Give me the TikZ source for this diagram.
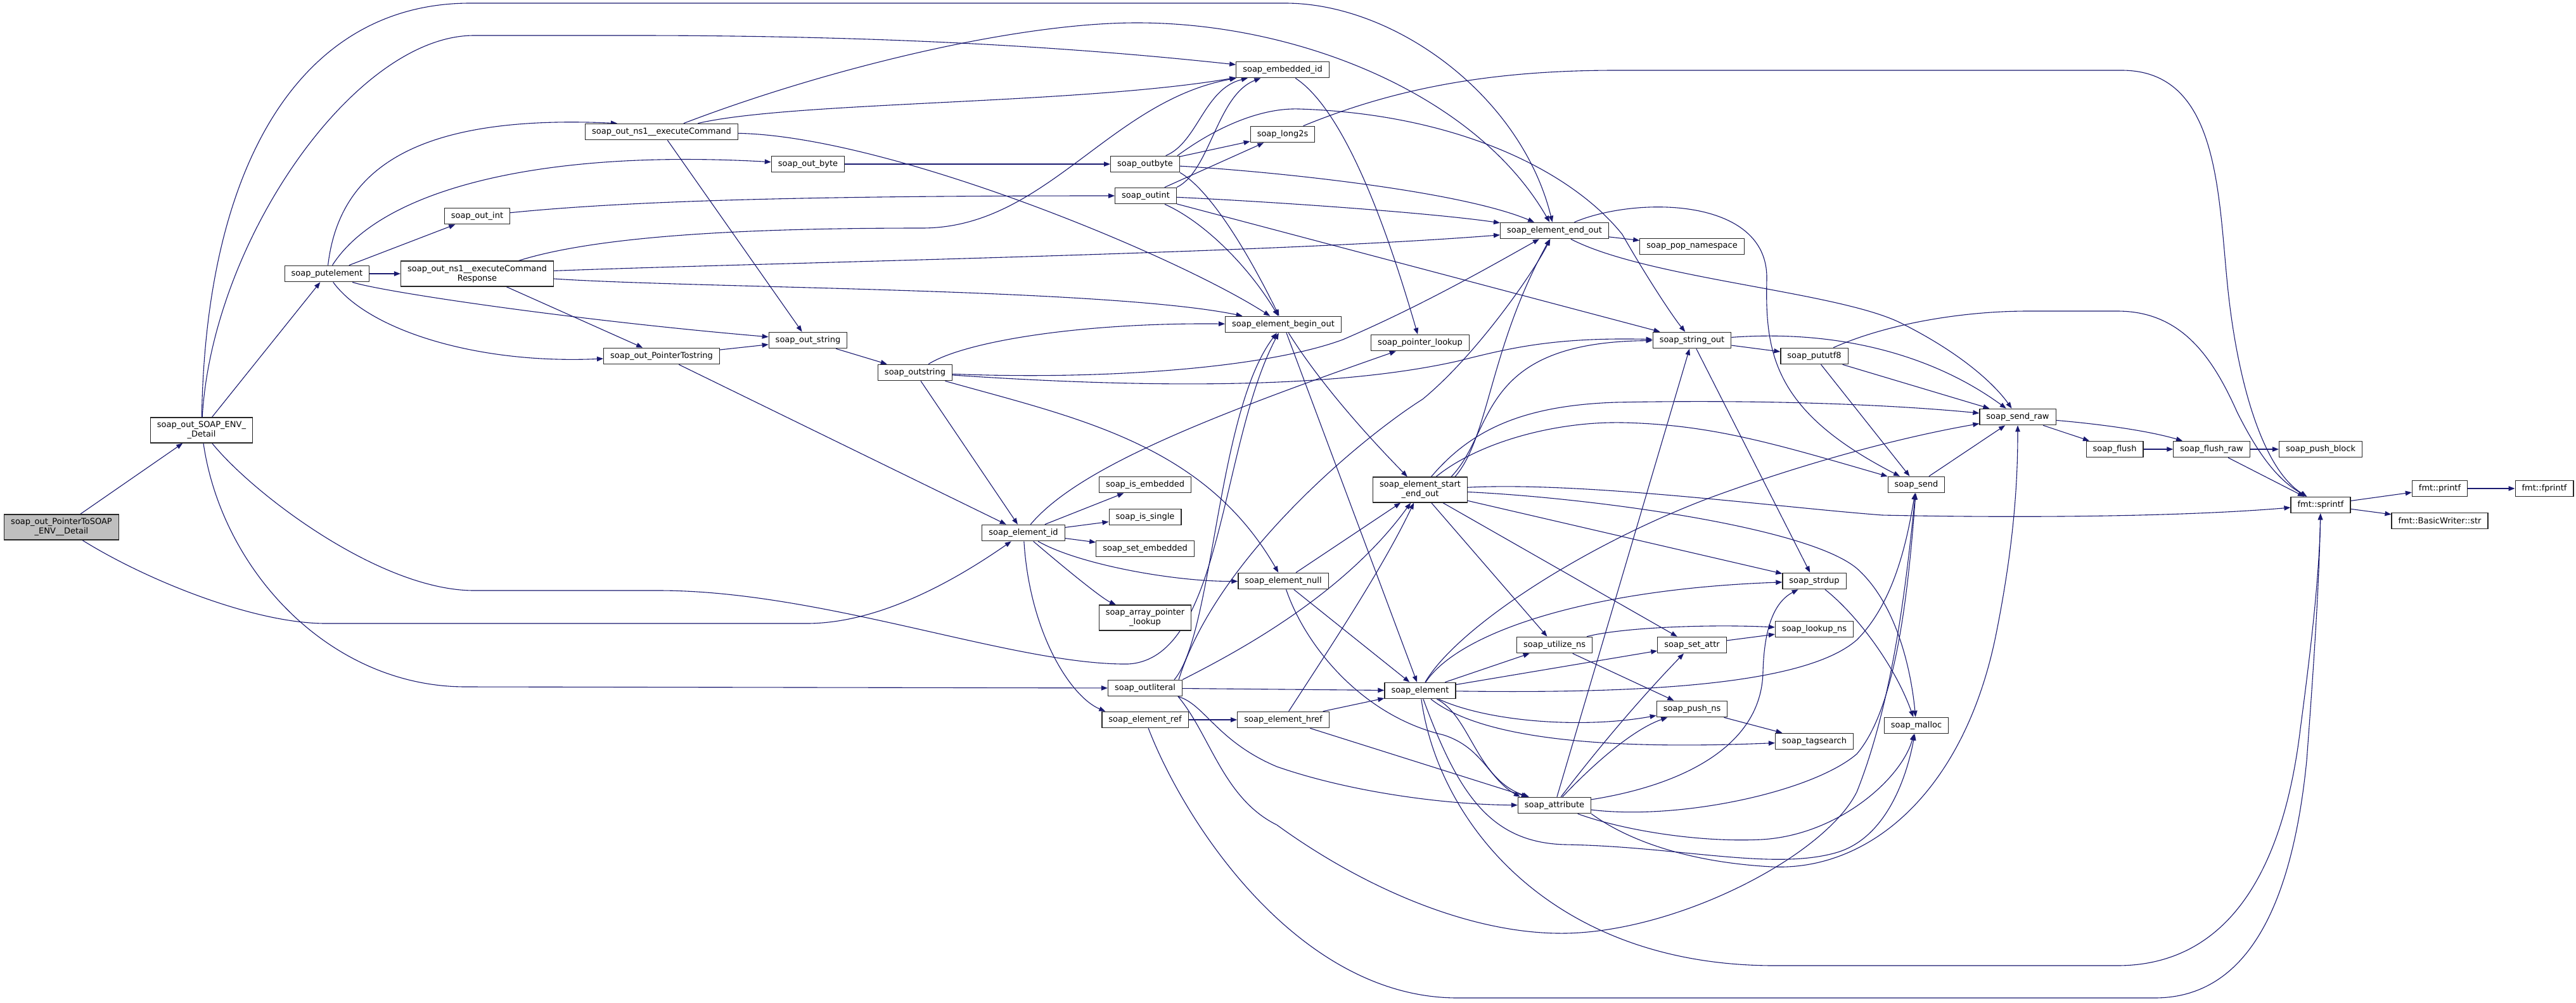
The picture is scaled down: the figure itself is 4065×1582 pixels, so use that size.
\documentclass[tikz,border=0pt]{standalone}
\usepackage{fontspec}
\setmainfont{DejaVu Sans}
\usetikzlibrary{arrows.meta}
\pgfdeclarelayer{bg}
\pgfsetlayers{bg,main}
\definecolor{edgeblue}{HTML}{191970}
\definecolor{rootgrey}{HTML}{BFBFBF}
\tikzset{
  fnbox/.style={draw=black!85, line width=1.2pt, fill=white, inner xsep=10.5pt, inner ysep=2pt,
    minimum height=25.5pt, align=center, font=\fontsize{13}{15}\selectfont},
  fnbox2/.style={fnbox, minimum height=40pt},
  rootbox/.style={fill=rootgrey},
  cedge/.style={draw=edgeblue, line width=1.1pt, -{Triangle[length=10pt,width=7.5pt]}},
}
\begin{document}
\begin{tikzpicture}[x=1pt,y=-1pt]
\useasboundingbox (0,0) rectangle (4065,1582);
\begin{pgfonlayer}{bg}
\fill[white] (0,0) rectangle (4065,1582);
\end{pgfonlayer}
% nodes
\node[fnbox2,rootbox] (ptr) at (97,832) {soap\_out\_PointerToSOAP\\\_ENV\_\_Detail};
\node[fnbox2] (detail) at (318,679) {soap\_out\_SOAP\_ENV\_\\\_Detail};
\node[fnbox] (putel) at (516,432) {soap\_putelement};
\node[fnbox] (outintw) at (753,341) {soap\_out\_int};
\node[fnbox2] (resp) at (753,432) {soap\_out\_ns1\_\_executeCommand\\Response};
\node[fnbox] (cmd) at (1044,208) {soap\_out\_ns1\_\_executeCommand};
\node[fnbox] (ptrstr) at (1044,562) {soap\_out\_PointerTostring};
\node[fnbox] (outbytew) at (1275,259) {soap\_out\_byte};
\node[fnbox] (outstrw) at (1275,537) {soap\_out\_string};
\node[fnbox] (outstring) at (1444,588) {soap\_outstring};
\node[fnbox] (elid) at (1615,841) {soap\_element\_id};
\node[fnbox] (outbyte) at (1807,259) {soap\_outbyte};
\node[fnbox] (outint) at (1808,309) {soap\_outint};
\node[fnbox] (isemb) at (1807,765) {soap\_is\_embedded};
\node[fnbox] (issingle) at (1807,816) {soap\_is\_single};
\node[fnbox] (setemb) at (1807,866) {soap\_set\_embedded};
\node[fnbox2] (arrptr) at (1807,975) {soap\_array\_pointer\\\_lookup};
\node[fnbox] (outlit) at (1807,1086) {soap\_outliteral};
\node[fnbox] (elref) at (1807,1136) {soap\_element\_ref};
\node[fnbox] (embid) at (2024,110) {soap\_embedded\_id};
\node[fnbox] (long2s) at (2024,212) {soap\_long2s};
\node[fnbox] (beginout) at (2025,512) {soap\_element\_begin\_out};
\node[fnbox] (elnull) at (2025,917) {soap\_element\_null};
\node[fnbox] (elhref) at (2025,1136) {soap\_element\_href};
\node[fnbox] (ptrlookup) at (2241,541) {soap\_pointer\_lookup};
\node[fnbox2] (startend) at (2241,773) {soap\_element\_start\\\_end\_out};
\node[fnbox] (element) at (2241,1090) {soap\_element};
\node[fnbox] (endout) at (2453,364) {soap\_element\_end\_out};
\node[fnbox] (utilize) at (2453,1018) {soap\_utilize\_ns};
\node[fnbox] (attribute) at (2453,1271) {soap\_attribute};
\node[fnbox] (popns) at (2670,389) {soap\_pop\_namespace};
\node[fnbox] (stringout) at (2670,537) {soap\_string\_out};
\node[fnbox] (setattr) at (2670,1018) {soap\_set\_attr};
\node[fnbox] (pushns) at (2670,1119) {soap\_push\_ns};
\node[fnbox] (pututf8) at (2863,562) {soap\_pututf8};
\node[fnbox] (strdup) at (2863,917) {soap\_strdup};
\node[fnbox] (lookupns) at (2863,993) {soap\_lookup\_ns};
\node[fnbox] (tagsearch) at (2863,1170) {soap\_tagsearch};
\node[fnbox] (send) at (3024,765) {soap\_send};
\node[fnbox] (malloc) at (3024,1145) {soap\_malloc};
\node[fnbox] (sendraw) at (3184,658) {soap\_send\_raw};
\node[fnbox] (flush) at (3337,709) {soap\_flush};
\node[fnbox] (flushraw) at (3490,709) {soap\_flush\_raw};
\node[fnbox] (pushblock) at (3662,709) {soap\_push\_block};
\node[fnbox] (sprintf) at (3662,797) {fmt::sprintf};
\node[fnbox] (printf) at (3850,771) {fmt::printf};
\node[fnbox] (fprintf) at (4015,771) {fmt::fprintf};
\node[fnbox] (bwstr) at (3850,822) {fmt::BasicWriter::str};
% edges
\begin{pgfonlayer}{bg}
\draw[cedge] (ptr) -- (detail);
\draw[cedge] (ptr) .. controls (230,915) and (400,984) .. (514,984) -- (1273,984) .. controls (1400,984) and (1530,900) .. (elid);
\draw[cedge] (detail) -- (putel);
\draw[cedge] (detail) .. controls (325,250) and (480,5) .. (742,5) -- (2028,5) .. controls (2200,5) and (2400,150) .. (endout);
\draw[cedge] (detail) .. controls (335,380) and (560,56) .. (748,56) -- (1000,56) .. controls (1400,56) and (1700,75) .. (embid);
\draw[cedge] (detail) .. controls (400,780) and (600,932) .. (748,932) -- (1039,932) .. controls (1300,932) and (1600,1050) .. (1780,1048) .. controls (1930,1040) and (1925,700) .. (beginout);
\draw[cedge] (detail) .. controls (350,900) and (520,1084) .. (735,1084) -- (outlit);
\draw[cedge] (putel) .. controls (535,270) and (650,180) .. ([xshift=51pt]cmd.north west);
\draw[cedge] (putel) .. controls (600,300) and (850,235) .. (outbytew);
\draw[cedge] (putel) -- (outintw);
\draw[cedge] (putel) -- (resp);
\draw[cedge] (putel) .. controls (600,460) and (900,505) .. (outstrw);
\draw[cedge] (putel) .. controls (580,520) and (750,575) .. (ptrstr);
\draw[cedge] (resp) .. controls (950,370) and (1200,360) .. (1455,360) .. controls (1650,360) and (1750,160) .. (embid);
\draw[cedge] (resp) .. controls (1200,415) and (2000,400) .. (endout);
\draw[cedge] (resp) .. controls (1100,455) and (1750,455) .. (beginout);
\draw[cedge] (resp) -- (ptrstr);
\draw[cedge] (outintw) .. controls (1000,316) and (1300,309) .. (outint);
\draw[cedge] (outbytew) -- (outbyte);
\draw[cedge] (cmd) .. controls (1300,110) and (1600,36) .. (1794,36) .. controls (2050,36) and (2330,150) .. (endout);
\draw[cedge] (cmd) .. controls (1250,160) and (1700,165) .. (embid);
\draw[cedge] (cmd) -- (outstrw);
\draw[cedge] (cmd) .. controls (1400,215) and (1850,400) .. (beginout);
\draw[cedge] (ptrstr) -- (outstrw);
\draw[cedge] (ptrstr) -- (elid);
\draw[cedge] (outstrw) -- (outstring);
\draw[cedge] (outstring) .. controls (1520,540) and (1700,509) .. (beginout);
\draw[cedge] (outstring) .. controls (1750,600) and (2000,580) .. (2119,536) .. controls (2250,480) and (2370,410) .. (endout);
\draw[cedge] (outstring) .. controls (1800,612) and (2100,615) .. (2300,570) .. controls (2380,550) and (2450,532) .. (stringout);
\draw[cedge] (outstring) -- (elid);
\draw[cedge] (outstring) .. controls (1700,660) and (1900,700) .. (elnull);
\draw[cedge] (elid) -- (isemb);
\draw[cedge] (elid) -- (issingle);
\draw[cedge] (elid) -- (setemb);
\draw[cedge] (elid) .. controls (1700,890) and (1850,918) .. (elnull);
\draw[cedge] (elid) .. controls (1690,905) and (1740,945) .. (arrptr);
\draw[cedge] (elid) .. controls (1625,1000) and (1690,1100) .. ([xshift=6pt]elref.north west);
\draw[cedge] (elid) .. controls (1700,740) and (1900,660) .. (ptrlookup);
\draw[cedge] (outbyte) .. controls (1890,225) and (1900,140) .. (embid);
\draw[cedge] ([xshift=-4pt]outbyte.north east) .. controls (1920,200) and (1990,170) .. (2050,172) .. controls (2300,180) and (2480,270) .. (2560,370) .. controls (2600,440) and (2640,500) .. (stringout);
\draw[cedge] (outbyte) -- (long2s);
\draw[cedge] (outbyte) .. controls (2000,270) and (2300,300) .. (endout);
\draw[cedge] (outbyte.south east) .. controls (1910,300) and (1970,400) .. (beginout);
\draw[cedge] (outint) -- (long2s);
\draw[cedge] (outint.north east) .. controls (1910,270) and (1920,150) .. (embid);
\draw[cedge] (outint) .. controls (2000,318) and (2250,335) .. (endout);
\draw[cedge] (outint) -- (stringout);
\draw[cedge] (outint) .. controls (1900,350) and (1970,420) .. (beginout);
\draw[cedge] (embid) .. controls (2130,180) and (2200,400) .. (ptrlookup);
\draw[cedge] (long2s) .. controls (2200,140) and (2350,111) .. (2550,111) -- (3348,111) .. controls (3500,111) and (3500,300) .. (3515,450) .. controls (3530,600) and (3570,740) .. (sprintf);
\draw[cedge] (beginout) -- (element);
\draw[cedge] (beginout) .. controls (2080,600) and (2150,680) .. (startend);
\draw[cedge] (endout) -- (popns);
\draw[cedge] (endout) .. controls (2600,440) and (2900,460) .. (3000,510) .. controls (3100,560) and (3150,610) .. (sendraw);
\draw[cedge] (endout) .. controls (2580,310) and (2790,310) .. (2788,440) .. controls (2785,560) and (2800,650) .. (send);
\draw[cedge] ([xshift=-20pt]startend.north east) .. controls (2350,690) and (2350,550) .. (endout);
\draw[cedge] ([xshift=-26pt]startend.north east) .. controls (2360,680) and (2330,540) .. (stringout);
\draw[cedge] (startend) .. controls (2320,680) and (2400,640) .. (2550,635) .. controls (2800,630) and (3000,640) .. (sendraw);
\draw[cedge] (startend) .. controls (2330,700) and (2450,665) .. (2560,667) .. controls (2700,670) and (2800,700) .. (send);
\draw[cedge] (startend) .. controls (2500,760) and (2800,800) .. (2970,813) .. controls (3200,818) and (3450,815) .. (sprintf);
\draw[cedge] (startend) .. controls (2500,785) and (2850,830) .. (2930,897) .. controls (2990,950) and (3015,1050) .. (malloc);
\draw[cedge] (startend) -- (utilize);
\draw[cedge] (startend) -- (setattr);
\draw[cedge] (startend) -- (strdup);
\draw[cedge] (elnull) -- (startend);
\draw[cedge] (outlit.north east) .. controls (1950,1030) and (2120,940) .. (startend);
\draw[cedge] (elhref) .. controls (2100,1020) and (2180,900) .. (startend);
\draw[cedge] ([xshift=-13pt]outlit.north east) .. controls (1915,1000) and (1920,650) .. (beginout);
\draw[cedge] ([xshift=-6pt]outlit.north east) .. controls (1920,880) and (2150,690) .. (2245,630) .. controls (2330,560) and (2420,430) .. (endout);
\draw[cedge] (outlit) -- (element);
\draw[cedge] (outlit) .. controls (1900,1110) and (1920,1170) .. (2015,1210) .. controls (2130,1250) and (2280,1270) .. (attribute);
\draw[cedge] ([xshift=-7pt]outlit.south east) .. controls (1910,1160) and (1930,1260) .. (2015,1302) .. controls (2150,1400) and (2320,1475) .. (2470,1473) .. controls (2650,1470) and (2880,1350) .. (2930,1250) .. controls (2990,1100) and (3010,900) .. (send);
\draw[cedge] (elref) -- (elhref);
\draw[cedge] (elref) .. controls (1870,1300) and (2050,1575) .. (2300,1575) -- (3400,1575) .. controls (3560,1575) and (3620,1400) .. (3640,1200) .. controls (3655,1000) and (3660,900) .. (sprintf);
\draw[cedge] (element) .. controls (2270,1300) and (2450,1524) .. (2800,1524) -- (3341,1524) .. controls (3500,1524) and (3600,1400) .. (3630,1150) .. controls (3650,1000) and (3660,900) .. (sprintf);
\draw[cedge] (element) -- (utilize);
\draw[cedge] (element) -- (setattr);
\draw[cedge] (element) .. controls (2350,1140) and (2500,1150) .. (pushns);
\draw[cedge] (element) .. controls (2330,1160) and (2500,1185) .. (tagsearch);
\draw[cedge] (element) .. controls (2300,1000) and (2500,930) .. (strdup);
\draw[cedge] (element) .. controls (2320,1130) and (2330,1230) .. (attribute);
\draw[cedge] (element) .. controls (2300,1250) and (2350,1330) .. (2470,1333) .. controls (2650,1336) and (2800,1375) .. (2900,1345) .. controls (2980,1320) and (3010,1220) .. (malloc);
\draw[cedge] (element) .. controls (2300,990) and (2500,860) .. (2700,785) .. controls (2850,730) and (3000,690) .. (sendraw);
\draw[cedge] (element) .. controls (2600,1095) and (2850,1080) .. (2930,1010) .. controls (2990,950) and (3010,850) .. (send);
\draw[cedge] (utilize) .. controls (2560,990) and (2700,985) .. (lookupns);
\draw[cedge] (utilize) -- (pushns);
\draw[cedge] (setattr) -- (lookupns);
\draw[cedge] (pushns) -- (tagsearch);
\draw[cedge] (attribute) -- (stringout);
\draw[cedge] (attribute) .. controls (2530,1170) and (2600,1090) .. (setattr);
\draw[cedge] (attribute) .. controls (2520,1200) and (2580,1150) .. (pushns);
\draw[cedge] (attribute) .. controls (2650,1240) and (2780,1180) .. (2782,1060) .. controls (2784,990) and (2800,950) .. (strdup);
\draw[cedge] (attribute) .. controls (2650,1295) and (2860,1250) .. (2930,1190) .. controls (2990,1120) and (3010,950) .. (send);
\draw[cedge] (attribute) .. controls (2560,1310) and (2680,1330) .. (2780,1325) .. controls (2900,1318) and (3000,1230) .. (malloc);
\draw[cedge] (attribute.south east) .. controls (2560,1320) and (2650,1360) .. (2796,1368) .. controls (2950,1375) and (3100,1250) .. (3150,1000) .. controls (3180,850) and (3184,750) .. (sendraw);
\draw[cedge] (elnull) -- (element);
\draw[cedge] (elnull) .. controls (2060,1020) and (2150,1130) .. (2278,1160) .. controls (2340,1180) and (2350,1230) .. ([xshift=4pt]attribute.north west);
\draw[cedge] (elhref) -- (element);
\draw[cedge] (elhref) -- (attribute);
\draw[cedge] (pututf8) -- (sendraw);
\draw[cedge] (pututf8) -- (send);
\draw[cedge] (pututf8) .. controls (2980,510) and (3100,491) .. (3200,491) -- (3341,491) .. controls (3440,491) and (3490,560) .. (3530,650) .. controls (3570,730) and (3600,760) .. (sprintf);
\draw[cedge] (stringout) -- (pututf8);
\draw[cedge] (stringout) .. controls (2900,520) and (3050,560) .. (sendraw);
\draw[cedge] (stringout) -- (strdup);
\draw[cedge] (strdup) .. controls (2930,970) and (2990,1050) .. (malloc);
\draw[cedge] (send) -- (sendraw);
\draw[cedge] (sendraw) -- (flush);
\draw[cedge] (sendraw) .. controls (3320,670) and (3390,680) .. (flushraw);
\draw[cedge] (flush) -- (flushraw);
\draw[cedge] (flushraw) -- (pushblock);
\draw[cedge] (flushraw) -- (sprintf);
\draw[cedge] (sprintf) -- (printf);
\draw[cedge] (sprintf) -- (bwstr);
\draw[cedge] (printf) -- (fprintf);
\end{pgfonlayer}
\end{tikzpicture}
\end{document}
